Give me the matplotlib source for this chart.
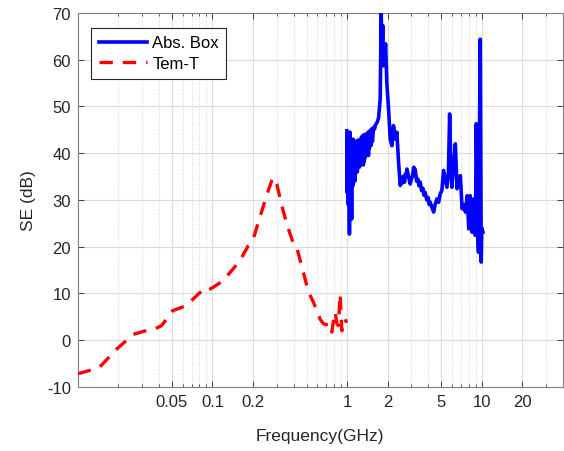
import matplotlib
matplotlib.use("Agg")
import matplotlib.pyplot as plt
import numpy as np
from matplotlib.ticker import FixedLocator, NullFormatter, LogLocator

# Tem-T (red dashed)
temt_f = [0.010, 0.0119, 0.0145, 0.0193, 0.0257, 0.0310, 0.0362, 0.0419, 0.0507,
          0.0642, 0.0761, 0.0877, 0.0930, 0.101, 0.120, 0.139, 0.160, 0.184, 0.201,
          0.225, 0.252, 0.275, 0.283, 0.300, 0.327, 0.356, 0.399, 0.420, 0.473,
          0.516, 0.562, 0.630, 0.666, 0.700, 0.747, 0.769, 0.790, 0.814, 0.840,
          0.862, 0.887, 0.913, 0.940, 0.966, 0.990]
temt_se = [-7.2, -6.6, -5.8, -2.0, 1.2, 1.9, 2.2, 3.1, 6.3,
           7.4, 9.5, 11.1, 10.7, 11.3, 12.7, 14.9, 17.0, 20.2, 21.7,
           26.3, 30.9, 34.1, 34.8, 33.4, 28.8, 24.9, 20.6, 20.1, 14.5,
           10.3, 8.1, 4.5, 3.5, 3.3, 3.5, 1.7, 4.0, 6.0, 3.5,
           3.1, 9.9, 2.0, 3.0, 4.5, 3.7]

# Abs. Box (blue solid)
box_f = [0.995, 1.00, 1.005, 1.01, 1.02, 1.025, 1.03, 1.04, 1.045, 1.05, 1.06, 1.07,
         1.08, 1.09, 1.10, 1.11, 1.12, 1.13, 1.14, 1.15, 1.16, 1.17, 1.18, 1.19,
         1.20, 1.21, 1.22, 1.23, 1.24, 1.25, 1.26, 1.27, 1.28, 1.30, 1.31, 1.32,
         1.33, 1.34, 1.35, 1.36, 1.37, 1.38, 1.40, 1.41, 1.43, 1.44, 1.45, 1.46,
         1.48, 1.50, 1.52, 1.54, 1.57, 1.60, 1.62, 1.67, 1.71, 1.76, 1.79,
         1.81, 1.84, 1.86, 1.93, 1.97, 2.03, 2.09, 2.15, 2.21, 2.28, 2.34, 2.41,
         2.48, 2.52, 2.55, 2.60, 2.63, 2.67, 2.70, 2.74, 2.78, 2.86, 2.94, 3.00,
         3.05, 3.12, 3.20, 3.28, 3.35, 3.42, 3.49, 3.57, 3.65, 3.72, 3.80, 3.90,
         4.00, 4.07, 4.14, 4.25, 4.39, 4.50, 4.64, 4.78, 4.91, 5.05, 5.20, 5.35,
         5.51, 5.65, 5.77, 5.90, 6.00, 6.15, 6.36, 6.55, 6.70, 6.93, 7.14, 7.35,
         7.56, 7.79, 8.00, 8.20, 8.45, 8.70, 8.96, 9.10, 9.30, 9.45, 9.74, 9.90,
         10.0, 10.2]
box_se = [44.8, 31.6, 42.0, 44.0, 29.0, 40.0, 43.5, 22.7, 38.0, 44.5, 28.0, 40.0,
          25.9, 42.0, 33.0, 43.0, 35.0, 41.0, 34.0, 37.3, 42.5, 36.0, 41.5, 36.0,
          42.8, 38.0, 42.3, 37.0, 42.0, 37.3, 43.0, 38.5, 43.5, 38.5, 43.8, 37.5,
          43.5, 38.3, 44.0, 39.0, 44.0, 39.5, 44.1, 40.0, 44.5, 39.5, 44.5, 41.0,
          44.8, 41.6, 45.2, 42.5, 45.5, 45.2, 46.0, 46.6, 47.5, 51.6, 70.0,
          62.0, 67.3, 58.7, 63.4, 55.2, 49.5, 43.0, 41.6, 45.9, 43.0, 44.5, 38.0,
          33.1, 34.5, 33.5, 35.0, 34.5, 33.8, 35.5, 35.0, 36.6, 35.0, 33.4, 34.5,
          35.0, 37.0, 36.5, 34.0, 34.5, 33.0, 33.8, 32.0, 32.5, 31.0, 31.6, 30.0,
          30.5, 29.0, 29.5, 28.5, 27.4, 29.0, 30.2, 29.5, 31.3, 32.0, 36.3, 34.5,
          32.7, 36.0, 48.4, 36.0, 32.7, 37.0, 42.0, 32.4, 34.5, 35.2, 28.1, 29.0,
          27.4, 30.9, 23.8, 30.9, 23.1, 30.2, 22.4, 46.3, 23.8, 18.8, 64.4, 16.7,
          24.0, 23.1]

xticks = [0.05, 0.1, 0.2, 1, 2, 5, 10, 20]
xticklabels = ['0.05', '0.1', '0.2', '1', '2', '5', '10', '20']
yticks = [-10, 0, 10, 20, 30, 40, 50, 60, 70]

plt.rcParams['font.family'] = ['Liberation Sans', 'DejaVu Sans']
plt.rcParams['axes.unicode_minus'] = False
axcol = '#262626'

fig = plt.figure(figsize=(5.64, 4.52), dpi=100)
ax = fig.add_axes([0.138, 0.142, 0.860, 0.827])

ax.plot(box_f, box_se, color='#0000ff', lw=2.6, label='Abs. Box', zorder=3)
ax.plot(temt_f, temt_se, color='#ff0000', lw=2.4, ls=(0, (4, 3)), label='Tem-T', zorder=3)

ax.set_xscale('log')
ax.set_xlim(0.01, 40)
ax.set_ylim(-10, 70)
ax.xaxis.set_major_locator(FixedLocator(xticks))
ax.set_xticklabels(xticklabels)
ax.xaxis.set_minor_locator(LogLocator(base=10, subs=np.arange(1, 10)))
ax.xaxis.set_minor_formatter(NullFormatter())
ax.set_yticks(yticks)

ax.grid(True, which='major', color='#dcdcdc', lw=0.8)
ax.grid(True, which='minor', axis='x', color='#c8c8c8', lw=0.6, ls=(0, (1, 2)))
ax.set_axisbelow(True)

ax.tick_params(which='both', direction='in', top=True, right=True, colors=axcol,
               labelsize=12, labelcolor=axcol)
ax.tick_params(which='major', length=4, width=0.6, pad=5)
ax.tick_params(which='minor', length=2.5, width=0.5)
for s in ax.spines.values():
    s.set_color('#7f7f7f')
    s.set_linewidth(0.8)

ax.set_xlabel('Frequency(GHz)', fontsize=12.5, color=axcol, labelpad=14)
ax.set_ylabel('SE (dB)', fontsize=12.5, color=axcol, labelpad=8)

leg = ax.legend(loc='upper left', bbox_to_anchor=(0.028, 0.96), fontsize=12,
                fancybox=False, framealpha=1, edgecolor=axcol, handlelength=2.9,
                borderpad=0.45, labelspacing=0.35, handletextpad=0.3, borderaxespad=0)
leg.get_frame().set_linewidth(0.8)
for t in leg.get_texts():
    t.set_color('black')

fig.savefig('out.png', dpi=100)
